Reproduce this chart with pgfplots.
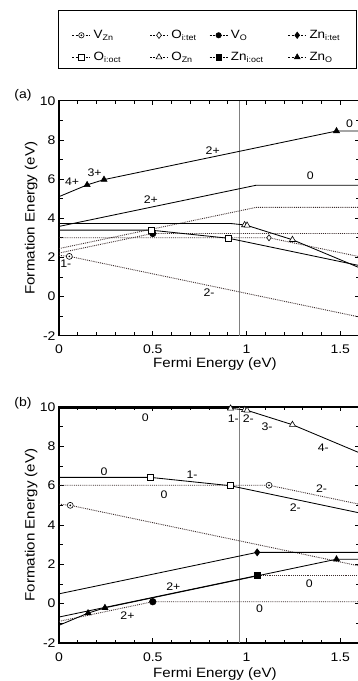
\documentclass[border=0pt]{standalone}
\usepackage{fontspec}
\setmainfont[FakeStretch=1.12]{Liberation Sans}
\usepackage{pgfplots}
\pgfplotsset{compat=1.18}
\usetikzlibrary{plotmarks}
\pgfdeclareplotmark{odot}{%
  \pgfpathcircle{\pgfpointorigin}{\pgfplotmarksize}\pgfusepathqfillstroke
  \pgfpathcircle{\pgfpointorigin}{0.5pt}\pgfsetfillcolor{black}\pgfusepathqfillstroke}
\definecolor{dotc}{RGB}{60,45,45}
\tikzset{lab/.style={font=\fontsize{11}{11}\selectfont, inner sep=0pt}}
\pgfplotsset{
  mo/.style={mark options={solid, draw=black, fill=#1, line width=0.6pt}},
  sol/.style={black, solid, line width=0.85pt, mark size=3pt, forget plot},
  dot/.style={dotc, densely dotted, line width=0.9pt, mark size=3pt, forget plot},
  fe/.style={
    scale only axis, width=300pt, height=235pt,
    xmin=0, xmax=1.6, ymin=-2, ymax=10,
    xtick={0,0.5,1,1.5}, xticklabels={0,0.5,1,1.5},
    minor xtick={0.1,0.2,0.3,0.4,0.6,0.7,0.8,0.9,1.1,1.2,1.3,1.4},
    ytick={-2,0,2,4,6,8,10}, yticklabels={-2,0,2,4,6,8,10},
    minor ytick={-1,1,3,5,7,9},
    tick align=inside, major tick length=4.5pt, minor tick length=3.5pt,
    every tick/.style={black, line width=0.7pt},
    axis line style={line width=1.3pt},
    tick label style={font=\fontsize{12.5}{12.5}\selectfont},
    xticklabel style={yshift=-6pt},
    label style={font=\fontsize{13.5}{13.5}\selectfont},
    xlabel={Fermi Energy (eV)}, ylabel={Formation Energy (eV)},
    ylabel style={at={(axis description cs:-0.093,0.5)}, anchor=center},
  }
}
\begin{document}
\begin{tikzpicture}
\useasboundingbox (0pt,0pt) rectangle (357pt,681pt);
\node[font=\fontsize{12.5}{12.5}\selectfont] at (23pt,586pt) {(a)};
\node[font=\fontsize{12.5}{12.5}\selectfont] at (23pt,278pt) {(b)};

\begin{axis}[fe, at={(59pt,345.3pt)}, anchor=south west,
  xlabel style={at={(axis description cs:0.52,-0.119)}, anchor=center},
  after end axis/.code={\draw[line width=0.9pt] (rel axis cs:-0.0033,1.1391) rectangle (rel axis cs:0.99,1.3859);},
  legend columns=4,
  legend cell align=left,
  legend style={draw=none, fill=none, at={(axis description cs:0.033,1.313)}, anchor=north west,
    font=\fontsize{12}{12}\selectfont, row sep=10pt, nodes={inner sep=1pt},
    /tikz/every odd column/.append style={column sep=2pt}},
  legend image code/.code={\draw[mark repeat=2,mark phase=2,#1] plot coordinates {(0pt,0pt) (9pt,0pt) (18pt,0pt)};},
]
\addlegendimage{black, dash pattern=on 2pt off 1.3pt, line width=0.6pt, mark size=2.7pt, mark=odot, mo=white}
\addlegendentry{\makebox[55pt][l]{V\textsubscript{Zn}}}
\addlegendimage{black, dash pattern=on 2pt off 1.3pt, line width=0.6pt, mark size=3.2pt, mark=diamond*, mo=white}
\addlegendentry{\makebox[37pt][l]{O\textsubscript{i:tet}}}
\addlegendimage{black, dash pattern=on 2pt off 1.3pt, line width=0.6pt, mark size=2.7pt, mark=*, mo=black}
\addlegendentry{\makebox[56pt][l]{V\textsubscript{O}}}
\addlegendimage{black, dash pattern=on 2pt off 1.3pt, line width=0.6pt, mark size=3.2pt, mark=diamond*, mo=black}
\addlegendentry{\makebox[40pt][l]{Zn\textsubscript{i:tet}}}
\addlegendimage{black, dash pattern=on 2pt off 1.3pt, line width=0.6pt, mark size=2.7pt, mark=square*, mo=white}
\addlegendentry{\makebox[55pt][l]{O\textsubscript{i:oct}}}
\addlegendimage{black, dash pattern=on 2pt off 1.3pt, line width=0.6pt, mark size=3.3pt, mark=triangle*, mo=white}
\addlegendentry{\makebox[37pt][l]{O\textsubscript{Zn}}}
\addlegendimage{black, dash pattern=on 2pt off 1.3pt, line width=0.6pt, mark size=2.7pt, mark=square*, mo=black}
\addlegendentry{\makebox[56pt][l]{Zn\textsubscript{i:oct}}}
\addlegendimage{black, dash pattern=on 2pt off 1.3pt, line width=0.6pt, mark size=3.3pt, mark=triangle*, mo=black}
\addlegendentry{\makebox[40pt][l]{Zn\textsubscript{O}}}

\addplot[gray, line width=1pt, forget plot] coordinates {(0.965,-2) (0.965,10)};
% V_Zn
\addplot[dot, mark=odot, mo=white, mark indices={2}] coordinates {(0,2.1) (0.055,2.05) (1.6,-1.04)};
% O_i,tet
\addplot[dot, mark=diamond*, mo=white, mark indices={2}] coordinates {(0,3.0) (1.12,3.0) (1.6,2.04)};
% V_O
\addplot[dot, mark=*, mo=black, mark size=3.3pt, mark indices={2}] coordinates {(0,2.22) (0.5,3.22) (1.6,3.22)};
% Zn_i,oct
\addplot[dot] coordinates {(0,2.45) (1.05,4.55) (1.6,4.55)};
% Zn_i,tet
\addplot[sol] coordinates {(0,3.58) (1.05,5.68) (1.6,5.68)};
% O_i,oct
\addplot[sol, mark=square*, mo=white, mark indices={2,3}] coordinates {(0,3.39) (0.49,3.39) (0.905,2.975) (1.6,1.585)};
% O_Zn
\addplot[sol, mark=triangle*, mo=white, mark size=3.5pt, mark indices={3,4,5}] coordinates {(0,3.73) (0.915,3.73) (0.99,3.655) (1.003,3.63) (1.245,2.90) (1.6,1.48)};
% Zn_O
\addplot[sol, mark=triangle*, mo=black, mark size=3.5pt, mark indices={2,3,4}] coordinates {(0,5.1) (0.15,5.7) (0.24,5.97) (1.48,8.45) (1.6,8.45)};

\node[lab] at (axis cs:0.07,5.84) {4+};
\node[lab] at (axis cs:0.19,6.3) {3+};
\node[lab] at (axis cs:0.82,7.47) {2+};
\node[lab] at (axis cs:1.55,8.8) {0};
\node[lab] at (axis cs:1.34,6.16) {0};
\node[lab] at (axis cs:0.49,4.96) {2+};
\node[lab] at (axis cs:0.036,1.69) {1-};
\node[lab] at (axis cs:0.8,0.2) {2-};
\end{axis}

\begin{axis}[fe, at={(59pt,38pt)}, anchor=south west, height=236pt,
  xlabel style={at={(axis description cs:0.52,-0.132)}, anchor=center}]
\addplot[gray, line width=1pt, forget plot] coordinates {(0.965,-2) (0.965,10)};
% V_Zn
\addplot[dot, mark=odot, mo=white, mark indices={2}] coordinates {(0,5.06) (0.06,5.0) (1.6,1.92)};
% O_i,tet
\addplot[dot, mark=odot, mo=white, mark indices={2}] coordinates {(0,6.02) (1.12,6.02) (1.6,5.06)};
% V_O
\addplot[dot, mark=*, mo=black, mark size=3.3pt, mark indices={2}] coordinates {(0,-0.9) (0.5,0.1) (1.6,0.1)};
% Zn_i,oct
\addplot[sol, mark=square*, mo=black, mark indices={2}] coordinates {(0,-0.68) (1.057,1.43)};
\addplot[dot] coordinates {(1.057,1.43) (1.6,1.43)};
% Zn_i,tet
\addplot[sol, mark=diamond*, mo=black, mark size=3.5pt, mark indices={2}] coordinates {(0,0.5) (1.057,2.61) (1.6,2.61)};
% O_i,oct
\addplot[sol, mark=square*, mo=white, mark indices={2,3}] coordinates {(0,6.42) (0.489,6.42) (0.912,6.0) (1.6,4.62)};
% O_Zn
\addplot[sol, mark=triangle*, mo=white, mark size=3.5pt, mark indices={2,3,4,5}] coordinates {(0,9.93) (0.915,9.93) (0.99,9.855) (1.003,9.83) (1.245,9.10) (1.6,7.68)};
% Zn_O
\addplot[sol, mark=triangle*, mo=black, mark size=3.5pt, mark indices={2,3,4}] coordinates {(0,-1.1) (0.155,-0.48) (0.245,-0.21) (1.48,2.26) (1.6,2.26)};

\node[lab] at (axis cs:0.46,9.43) {0};
\node[lab] at (axis cs:0.93,9.39) {1-};
\node[lab] at (axis cs:1.01,9.39) {2-};
\node[lab] at (axis cs:1.11,9.0) {3-};
\node[lab] at (axis cs:1.41,7.93) {4-};
\node[lab] at (axis cs:0.24,6.71) {0};
\node[lab] at (axis cs:0.71,6.54) {1-};
\node[lab] at (axis cs:0.56,5.56) {0};
\node[lab] at (axis cs:1.40,5.87) {2-};
\node[lab] at (axis cs:1.26,4.9) {2-};
\node[lab] at (axis cs:0.61,0.86) {2+};
\node[lab] at (axis cs:0.365,-0.61) {2+};
\node[lab] at (axis cs:1.335,1.0) {0};
\node[lab] at (axis cs:1.07,-0.27) {0};
\end{axis}
\end{tikzpicture}
\end{document}
